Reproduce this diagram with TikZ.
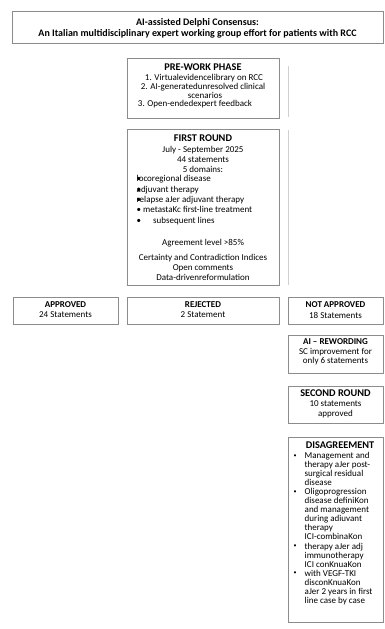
\documentclass[tikz,border=0pt]{standalone}
\usepackage{fontspec}
\setmainfont{Carlito}
\definecolor{boxgray}{HTML}{8C8C8C}
\definecolor{linegray}{HTML}{D0D0D0}
\begin{document}
\begin{tikzpicture}[x=1pt,y=1pt,
  panel/.style={draw=boxgray,line width=0.8pt,inner sep=0pt,fill=white},
  txt/.style={inner sep=0pt,align=center,font=\fontsize{9}{10}\selectfont},
  head/.style={inner sep=0pt,align=center,font=\fontsize{10.3}{11}\selectfont\bfseries},
  rowhead/.style={inner sep=0pt,align=center,font=\fontsize{9}{10}\selectfont\bfseries},
  sideline/.style={draw=linegray,line width=0.8pt}]
\useasboundingbox (0,0) rectangle (384,-629);
% title
\node[panel,minimum width=371pt,minimum height=32pt] (titlebox) at (197.5,-27) {};
\node[inner sep=0pt,align=center,font=\fontsize{10}{11}\selectfont\bfseries] (title) at (197.5,-28.5)
  {AI-assisted Delphi Consensus:\\An Italian multidisciplinary expert working group effort for patients with RCC};
% pre-work
\node[panel,minimum width=152pt,minimum height=60pt] (prebox) at (203,-88) {};
\node[head] (pretitle) at (203,-67) {PRE-WORK PHASE};
\node[txt] (pre1) at (204,-78) {1. Virtualevidencelibrary on RCC};
\node[txt] (pre2) at (203,-87) {2. AI-generatedunresolved clinical};
\node[txt] (pre3) at (205,-95.5) {scenarios};
\node[txt] (pre4) at (195,-104.5) {3. Open-endedexpert feedback};
% first round
\node[panel,minimum width=152pt,minimum height=156pt] (frbox) at (203,-207) {};
\node[head] (frtitle) at (203,-138) {FIRST ROUND};
\node[txt] (frinfo) at (203,-159) {July - September 2025\\44 statements\\5 domains:};
\node[inner sep=0pt,align=left,anchor=west,font=\fontsize{9}{10.3}\selectfont] (frlist) at (136.5,-200)
  {\rlap{\textbullet}locoregional disease\\
   \rlap{\textbullet}adjuvant therapy\\
   \rlap{\textbullet}relapse aJer adjuvant therapy\\
   \textbullet\ metastaKc first-line treatment\\
   \textbullet\hspace{12pt}subsequent lines};
\node[txt] (fragree) at (203,-243) {Agreement level >85\%};
\node[txt] (frcert) at (203,-267) {Certainty and Contradiction Indices\\Open comments\\Data-drivenreformulation};
% side lines
\coordinate (l1a) at (288,-66); \coordinate (l1b) at (288,-117);
\coordinate (l2a) at (288,-130); \coordinate (l2b) at (288,-285);
\draw[sideline] (l1a) -- (l1b);
\draw[sideline] (l2a) -- (l2b);
% row
\node[panel,minimum width=105pt,minimum height=27pt] (apbox) at (65.5,-310.5) {};
\node[rowhead] (aptitle) at (65.5,-305) {APPROVED};
\node[txt] (aptext) at (65.5,-315) {24 Statements};
\node[panel,minimum width=152pt,minimum height=27pt] (rejbox) at (203,-310.5) {};
\node[rowhead] (rejtitle) at (203,-305) {REJECTED};
\node[txt] (rejtext) at (203,-315) {2 Statement};
\node[panel,minimum width=95pt,minimum height=27pt] (napbox) at (335.5,-310.5) {};
\node[rowhead] (naptitle) at (335.5,-305) {NOT APPROVED};
\node[txt] (naptext) at (335.5,-315) {18 Statements};
% AI rewording
\node[panel,minimum width=95pt,minimum height=38pt] (aibox) at (335.5,-354) {};
\node[rowhead] (aititle) at (335.5,-342) {AI -- REWORDING};
\node[txt,font=\fontsize{9}{9.2}\selectfont] (aitext) at (335.5,-356.5) {SC improvement for\\only 6 statements};
% second round
\node[panel,minimum width=95pt,minimum height=37pt] (srbox) at (335.5,-404.5) {};
\node[head] (srtitle) at (335.5,-393) {SECOND ROUND};
\node[txt] (srtext) at (335.5,-409) {10 statements\\approved};
% disagreement
\node[panel,minimum width=95pt,minimum height=185pt] (disbox) at (335.5,-529.5) {};
\node[head] (distitle) at (340,-445) {DISAGREEMENT};
\node[inner sep=0pt,anchor=north west,font=\fontsize{9}{9.1}\selectfont] (dislist) at (293.5,-451.5)
  {\begin{tabular}{@{}p{11pt}@{}l@{}}
   \raisebox{0.5pt}{\fontsize{6}{6}\selectfont\textbullet} & Management and\\
   & therapy aJer post-\\
   & surgical residual\\
   & disease\\
   \raisebox{0.5pt}{\fontsize{6}{6}\selectfont\textbullet} & Oligoprogression\\
   & disease definiKon\\
   & and management\\
   & during adiuvant\\
   & therapy\\
   & ICI-combinaKon\\
   \raisebox{2pt}{\fontsize{6}{6}\selectfont\textbullet} & therapy aJer adj\\
   & immunotherapy\\
   & ICI conKnuaKon\\
   \raisebox{2pt}{\fontsize{6}{6}\selectfont\textbullet} & with VEGF-TKI\\
   & disconKnuaKon\\
   & aJer 2 years in first\\
   & line case by case
   \end{tabular}};
\end{tikzpicture}
\end{document}
